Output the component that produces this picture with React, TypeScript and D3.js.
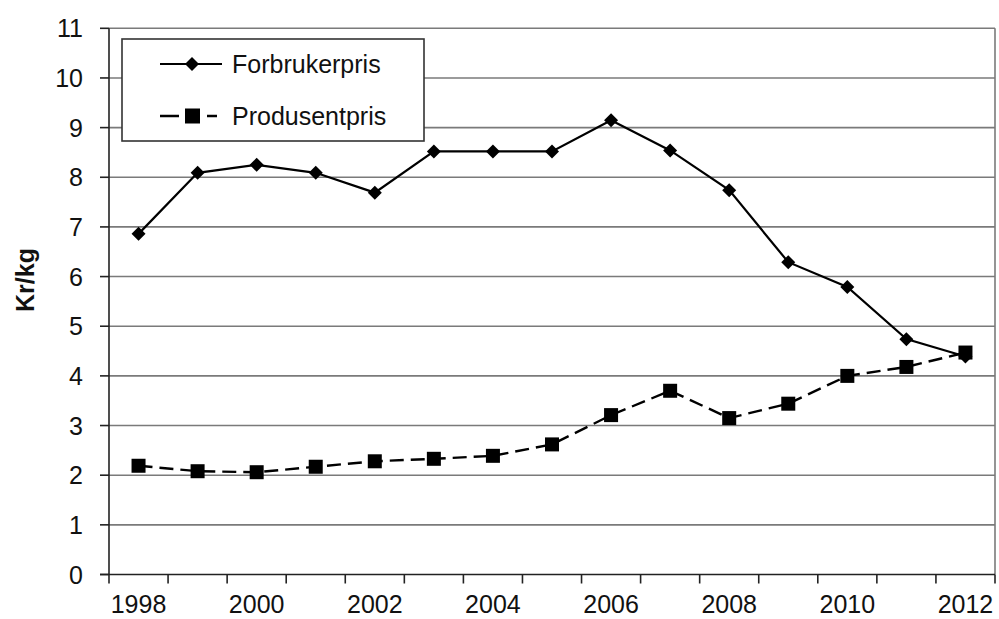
import * as d3 from "d3";

const years = [
  "1998", "1999", "2000", "2001", "2002", "2003", "2004", "2005",
  "2006", "2007", "2008", "2009", "2010", "2011", "2012",
];
const forbrukerpris = [6.86, 8.09, 8.25, 8.09, 7.69, 8.52, 8.52, 8.52, 9.15, 8.54, 7.74, 6.29, 5.79, 4.74, 4.39];
const produsentpris = [2.19, 2.08, 2.06, 2.17, 2.28, 2.33, 2.39, 2.62, 3.21, 3.7, 3.15, 3.44, 4.0, 4.18, 4.47];
const yTicks = [0, 1, 2, 3, 4, 5, 6, 7, 8, 9, 10, 11];
const xLabels = ["1998", "2000", "2002", "2004", "2006", "2008", "2010", "2012"];

const W = 999;
const H = 619;
const left = 109;
const right = 995;
const top = 28.3;
const bottom = 574.5;
const font = "'Liberation Sans', Arial, sans-serif";

export default function App() {
  const x = d3.scaleBand<string>().domain(years).range([left, right]);
  const y = d3.scaleLinear().domain([0, 11]).range([bottom, top]);
  const cx = (yr: string) => (x(yr) as number) + x.bandwidth() / 2;

  const line = d3
    .line<number>()
    .x((_, i) => cx(years[i]))
    .y((d) => y(d));

  const diamond = (px: number, py: number, r = 7) =>
    `M${px},${py - r}L${px + r},${py}L${px},${py + r}L${px - r},${py}Z`;

  const boundaries = years.map((yr) => x(yr) as number).concat([right]);

  return (
    <svg
      width={W}
      height={H}
      style={{ position: "absolute", left: 0, top: 0, background: "#fff" }}
      fontFamily={font}
    >
      <rect x={0} y={0} width={W} height={H} fill="#fff" />

      {/* grid */}
      {yTicks.slice(1).map((t) => (
        <line key={t} x1={left} x2={right} y1={y(t)} y2={y(t)} stroke="#7a7a7a" strokeWidth={1.6} />
      ))}
      <line x1={right} x2={right} y1={top} y2={bottom} stroke="#7a7a7a" strokeWidth={1.6} />

      {/* y axis */}
      <line x1={left} x2={left} y1={top} y2={bottom} stroke="#222" strokeWidth={1.6} />
      {yTicks.map((t) => (
        <g key={t}>
          <line x1={100} x2={left} y1={y(t)} y2={y(t)} stroke="#222" strokeWidth={1.6} />
          <text x={83} y={y(t)} dy="0.36em" textAnchor="end" fontSize={25} fill="#111">
            {t}
          </text>
        </g>
      ))}

      {/* x axis */}
      <line x1={100} x2={right} y1={bottom} y2={bottom} stroke="#222" strokeWidth={1.6} />
      {boundaries.map((b, i) => (
        <line key={i} x1={b} x2={b} y1={bottom} y2={bottom + 9} stroke="#222" strokeWidth={1.6} />
      ))}
      {xLabels.map((l) => (
        <text key={l} x={cx(l)} y={613} textAnchor="middle" fontSize={25} fill="#111">
          {l}
        </text>
      ))}

      <text
        transform={`translate(34,280) rotate(-90)`}
        textAnchor="middle"
        fontSize={25}
        fontWeight="bold"
        fill="#111"
      >
        Kr/kg
      </text>

      {/* Produsentpris */}
      <path d={line(produsentpris) as string} fill="none" stroke="#000" strokeWidth={2.4} strokeDasharray="14,7" />
      {produsentpris.map((v, i) => (
        <rect key={i} x={cx(years[i]) - 7} y={y(v) - 7} width={14} height={14} fill="#000" />
      ))}

      {/* Forbrukerpris */}
      <path d={line(forbrukerpris) as string} fill="none" stroke="#000" strokeWidth={2.2} />
      {forbrukerpris.map((v, i) => (
        <path key={i} d={diamond(cx(years[i]), y(v))} fill="#000" />
      ))}

      {/* legend */}
      <rect x={122} y={39} width={302} height={102} fill="#fff" stroke="#333" strokeWidth={1.6} />
      <line x1={160} x2={222} y1={64} y2={64} stroke="#000" strokeWidth={2.2} />
      <path d={diamond(192, 64)} fill="#000" />
      <text x={232} y={64} dy="0.36em" fontSize={25} fill="#111">
        Forbrukerpris
      </text>
      <line x1={160} x2={223} y1={116} y2={116} stroke="#000" strokeWidth={2.4} strokeDasharray="19,6,14,8,10" />
      <rect x={185} y={108.5} width={15} height={15} fill="#000" />
      <text x={232} y={116} dy="0.36em" fontSize={25} fill="#111">
        Produsentpris
      </text>
    </svg>
  );
}
